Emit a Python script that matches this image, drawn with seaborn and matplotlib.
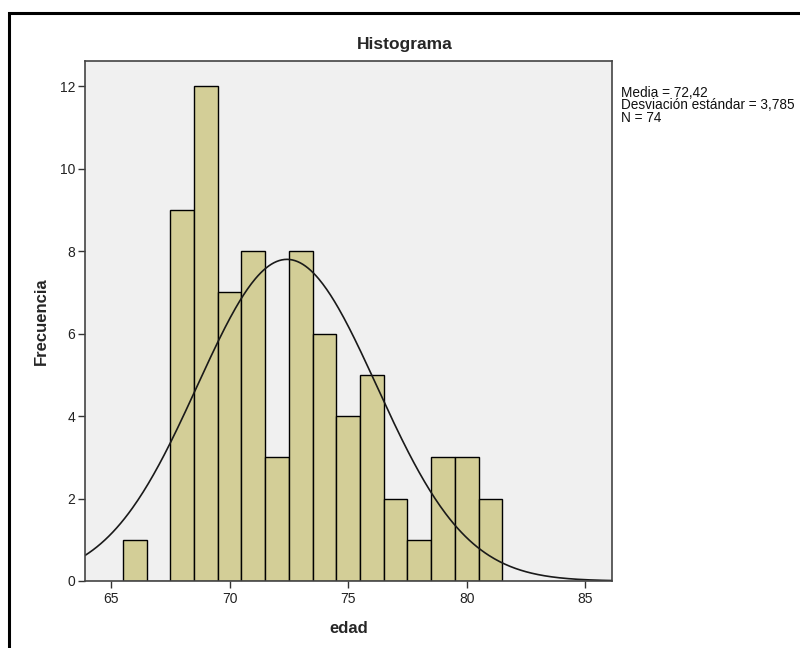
import numpy as np
import pandas as pd
import matplotlib
matplotlib.use("Agg")
import matplotlib.pyplot as plt
import seaborn as sns
from matplotlib.patches import Rectangle

# Data
bin_centers = [66, 67, 68, 69, 70, 71, 72, 73, 74, 75, 76, 77, 78, 79, 80, 81]
counts = [1, 0, 9, 12, 7, 8, 3, 8, 6, 4, 5, 2, 1, 3, 3, 2]
bin_edges = [65.5 + i for i in range(17)]
media = 72.42
desv = 3.785
n_total = 74
x_ticks = [65, 70, 75, 80, 85]
y_ticks = [0, 2, 4, 6, 8, 10, 12]

sns.set_theme(style="white")
plt.rcParams['font.family'] = ['Liberation Sans', 'DejaVu Sans']

fig = plt.figure(figsize=(8, 6.48), dpi=100)
L, R, T, B = 85, 612, 61, 581
ax = fig.add_axes([L/800, 1-B/648, (R-L)/800, (B-T)/648])
ax.set_facecolor("#f0f0f0")

df = pd.DataFrame({"edad": bin_centers, "n": counts})
sns.histplot(data=df, x="edad", weights="n", bins=bin_edges, ax=ax,
             color="#d3ce97", edgecolor="black", linewidth=1.0, alpha=1.0)

xs = np.linspace(63.9, 86.13, 400)
ys = n_total * 1.0 * np.exp(-0.5*((xs-media)/desv)**2) / (desv*np.sqrt(2*np.pi))
ax.plot(xs, ys, color="#1a1a1a", lw=1.2)

ax.set_xlim(63.9, 86.13)
ax.set_ylim(0, 12.61)
ax.set_xticks(x_ticks)
ax.set_yticks(y_ticks)
ax.tick_params(axis="both", which="both", length=5, width=1, color="#333333",
               labelsize=10, labelcolor="#222222", direction="out", pad=2)
ax.tick_params(axis="x", bottom=True, pad=3)
ax.tick_params(axis="y", left=True)
for s in ax.spines.values():
    s.set_color("#444444")
    s.set_linewidth(1.2)
ax.set_xlabel("edad", fontsize=12, fontweight="bold", labelpad=11)
ax.set_ylabel("Frecuencia", fontsize=12, fontweight="bold", labelpad=8)

fig.text(405/800, 1-45/648, "Histograma", ha="center", va="center",
         fontsize=12.5, fontweight="bold")
fig.text(621/800, 1-86/648,
         f"Media = {media:.2f}".replace(".", ",") + "\n" +
         f"Desviación estándar = {desv:.3f}".replace(".", ",") + "\n" +
         f"N = {n_total}",
         ha="left", va="top", fontsize=9.8, linespacing=0.85, color="#111111")

fig.patches.append(Rectangle((9/800, -0.05), 1.1, 1.05 - 13/648,
                             transform=fig.transFigure, fill=False,
                             edgecolor="black", lw=2.2))

fig.savefig("out.png", dpi=100, facecolor="white")
